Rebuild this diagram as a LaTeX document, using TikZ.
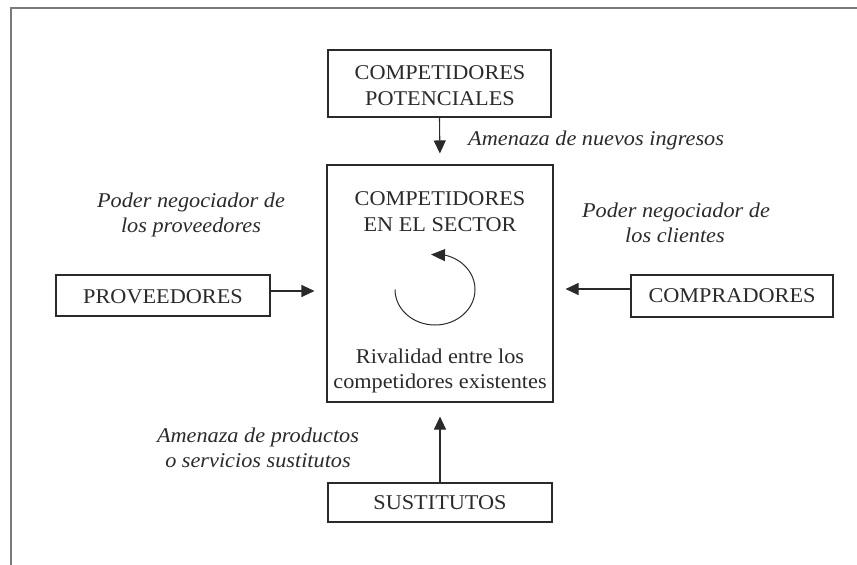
\documentclass[tikz,border=0pt]{standalone}
\usepackage{fontspec}
\setmainfont{Liberation Serif}[FakeStretch=1.06]
\usetikzlibrary{arrows.meta,calc}
\definecolor{ink}{HTML}{2A2A2A}
\definecolor{framegray}{HTML}{7A7A7A}
\tikzset{
  boxnode/.style={draw=ink, line width=1.1pt, minimum width=#1, inner sep=0pt},
  txt/.style={font=\fontsize{21}{26}\selectfont, text=ink, anchor=base, inner sep=0pt},
  itxt/.style={font=\fontsize{21}{26}\selectfont\itshape, text=ink, anchor=base, inner sep=0pt},
  arr/.style={draw=ink, line width=1.1pt, -{Triangle[length=13pt,width=12pt]}},
}
\begin{document}
\begin{tikzpicture}[x=1pt,y=-1pt]
\useasboundingbox (0,0) rectangle (857,565);
% outer frame (open at right and bottom)
\draw[framegray, line width=2pt] (11,565) -- (11,8) -- (857,8);

% boxes
\node[boxnode=223pt, minimum height=67pt] (pot) at (439.5,83.5) {};
\node[boxnode=226pt, minimum height=237pt] (sec) at (440,283.5) {};
\node[boxnode=214pt, minimum height=41pt] (prov) at (163,295.5) {};
\node[boxnode=202pt, minimum height=42pt] (comp) at (732,296) {};
\node[boxnode=224pt, minimum height=39pt] (sus) at (440,502.5) {};

% box texts
\node[txt] (potA) at (440,79) {COMPETIDORES};
\node[txt] (potB) at (440,105) {POTENCIALES};
\node[txt] (secA) at (440,205) {COMPETIDORES};
\node[txt] (secB) at (440,231) {EN EL SECTOR};
\node[txt] (secC) at (440,363) {Rivalidad entre los};
\node[txt] (secD) at (440,388) {competidores existentes};
\node[txt] (provT) at (163,303) {PROVEEDORES};
\node[txt] (compT) at (732,302) {COMPRADORES};
\node[txt] (susT) at (440,509) {SUSTITUTOS};

% italic labels
\node[itxt, anchor=base west] (lNuevos) at (468,145) {Amenaza de nuevos ingresos};
\node[itxt] (lProvA) at (191,207) {Poder negociador de};
\node[itxt] (lProvB) at (191,232) {los proveedores};
\node[itxt] (lCliA) at (676,217) {Poder negociador de};
\node[itxt] (lCliB) at (675,242) {los clientes};
\node[itxt] (lSusA) at (258,442) {Amenaza de productos};
\node[itxt] (lSusB) at (258,467) {o servicios sustitutos};

% arrow anchor points
\coordinate (provOut) at (prov.east |- 0,291);
\coordinate (secInL) at (sec.west |- 0,291);
\coordinate (compOut) at (comp.west |- 0,289);
\coordinate (secInR) at (sec.east |- 0,289);

% arrows
\draw[arr, shorten >=11pt] (pot.south) -- (sec.north);
\draw[arr, shorten >=12pt] (provOut) -- (secInL);
\draw[arr, shorten >=12pt] (compOut) -- (secInR);
\draw[arr, shorten >=14pt] (sus.north) -- (sec.south);

% rivalry circular arrow
\coordinate (rc) at (435,289.5);
\coordinate (rcEnd) at (431,254.5);
\draw[draw=ink, line width=1pt, -{Triangle[length=14pt,width=12pt]}]
  ($(rc)+(-40,0)$) arc[start angle=180, end angle=-76, x radius=40, y radius=35.5]
  -- (rcEnd);
\end{tikzpicture}
\end{document}
